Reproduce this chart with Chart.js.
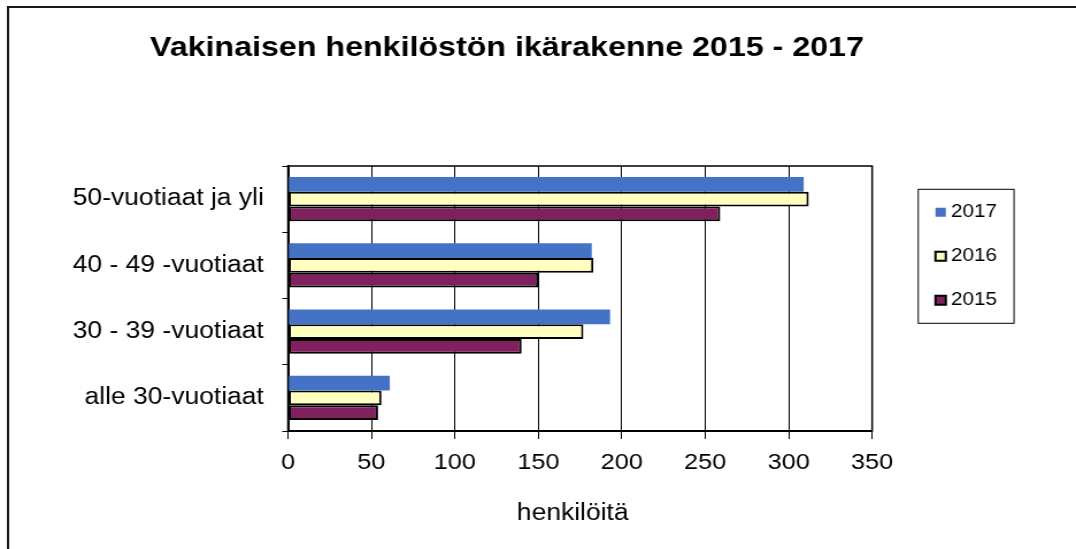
<!DOCTYPE html>
<html>
<head>
<meta charset="utf-8">
<script src="https://cdn.jsdelivr.net/npm/chart.js@4/dist/chart.umd.min.js"></script>
<style>
  html, body { margin: 0; padding: 0; background: #fff; overflow: hidden; }
  /* the original picture is stretched sideways, so the canvas is too */
  #chart { display: block; transform: scaleX(1.14957); transform-origin: 0 0; }
</style>
</head>
<body>
<canvas id="chart" width="936" height="549"></canvas>
<script>
// ================= DATA =================
const categories = ['50-vuotiaat ja yli', '40 - 49 -vuotiaat', '30 - 39 -vuotiaat', 'alle 30-vuotiaat']
const years = ['2017', '2016', '2015']
const values2017 = [309, 182, 193, 61]
const values2016 = [312, 183, 177, 56]
const values2015 = [259, 150, 140, 54]
const xTicks = [0, 50, 100, 150, 200, 250, 300, 350]

Chart.defaults.font.family = '"Liberation Sans", Arial, sans-serif'
Chart.defaults.color = '#000'

// plot box, outer picture border and the box round the legend
const frames = {
  id: 'frames',
  afterDraw(chart) {
    const { ctx, chartArea: a } = chart
    ctx.save()
    ctx.strokeStyle = '#000'
    ctx.lineWidth = 1.5
    ctx.strokeRect(a.left, a.top, a.right - a.left, a.bottom - a.top)

    ctx.lineWidth = 2
    ctx.strokeStyle = '#1a1a1a'
    ctx.beginPath()
    ctx.moveTo(7, 549)
    ctx.lineTo(7, 7)
    ctx.lineTo(936, 7)
    ctx.stroke()

    const hb = chart.legend.legendHitBoxes
    if (hb.length) {
      const first = hb[0]
      const last = hb[hb.length - 1]
      const l = first.left - 19.5
      const t = first.top - 14
      ctx.lineWidth = 1
      ctx.strokeStyle = '#000'
      ctx.strokeRect(l, t, first.width + 34.3, last.top + last.height + 14 - t)
    }
    ctx.restore()
  }
}

// ================= CHART =================
new Chart(document.getElementById('chart'), {
  type: 'bar',
  data: {
    labels: categories,
    datasets: [
      { label: years[0], data: values2017, backgroundColor: '#4472C4', borderWidth: 0 },
      { label: years[1], data: values2016, backgroundColor: '#FFFFC0', borderColor: '#000', borderWidth: 2 },
      { label: years[2], data: values2015, backgroundColor: '#80205F', borderColor: '#000', borderWidth: 2 }
    ]
  },
  options: {
    indexAxis: 'y',
    responsive: false,
    animation: false,
    devicePixelRatio: 1,
    layout: { padding: { left: 4.7, right: 58.7, top: 0, bottom: 0 } },
    datasets: { bar: { categoryPercentage: 0.67, barPercentage: 1, borderSkipped: false } },
    scales: {
      x: {
        min: 0,
        max: 350,
        afterBuildTicks: s => { s.ticks = xTicks.map(v => ({ value: v })) },
        grid: { color: '#000', lineWidth: 1, tickLength: 8 },
        border: { color: '#000', width: 2 },
        ticks: { font: { size: 22 }, padding: 11, color: '#000' },
        title: { display: true, text: 'henkilöitä  ', font: { size: 23 }, color: '#000', padding: { top: 0, bottom: 22 } },
        afterFit: s => { s.height = 118 }
      },
      y: {
        grid: { color: '#000', drawOnChartArea: false, tickLength: 5 },
        border: { color: '#000', width: 2 },
        ticks: { font: { size: 23 }, padding: 16, color: '#000' },
        afterFit: s => { s.width = 245.8 }
      },
      // empty gap between plot and legend
      y2: {
        type: 'category',
        position: 'right',
        grid: { display: false },
        border: { display: false },
        ticks: { display: false },
        afterFit: s => { s.width = 33.6 }
      }
    },
    plugins: {
      tooltip: { enabled: false },
      title: {
        display: true,
        text: 'Vakinaisen henkilöstön ikärakenne 2015 - 2017',
        font: { size: 28, weight: 'bold' },
        color: '#000',
        padding: { top: 31, bottom: 101.4 }
      },
      legend: {
        position: 'right',
        align: 'start',
        fullSize: false,
        title: { display: true, text: '', padding: 0, font: { size: 10, lineHeight: 1.13 } },
        // near-zero box width keeps the text close to the marker, as in the original
        labels: { usePointStyle: true, pointStyle: 'rect', boxWidth: 0.01, boxHeight: 9, padding: 26, font: { size: 18 }, color: '#000' }
      }
    }
  },
  plugins: [frames]
})
</script>
</body>
</html>
